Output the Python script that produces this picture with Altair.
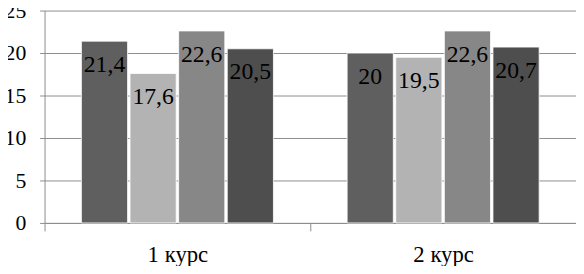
import altair as alt
import pandas as pd

courses = ["1 курс", "2 курс"]
series = ["s1", "s2", "s3", "s4"]
values_1 = [21.4, 17.6, 22.6, 20.5]
values_2 = [20.0, 19.5, 22.6, 20.7]
labels_1 = ["21,4", "17,6", "22,6", "20,5"]
labels_2 = ["20", "19,5", "22,6", "20,7"]
colors = ["#5f5f5f", "#b3b3b3", "#878787", "#4e4e4e"]
y_ticks = [0, 5, 10, 15, 20, 25]

rows = []
for c, vals, labs in [(courses[0], values_1, labels_1), (courses[1], values_2, labels_2)]:
    for s, v, l in zip(series, vals, labs):
        rows.append({"course": c, "series": s, "value": v, "label": l})
df = pd.DataFrame(rows)

AX = "#8c8c8c"
FONT = "Liberation Serif"

base = alt.Chart(df).encode(
    x=alt.X("course:N", sort=courses,
            scale=alt.Scale(paddingInner=0, paddingOuter=0),
            axis=alt.Axis(title=None, labelAngle=0, tickSize=8, tickColor=AX, tickBand="extent",
                          domainColor=AX, grid=False,
                          labelFont=FONT, labelFontSize=23, labelColor="black",
                          labelBaseline="alphabetic", labelPadding=31)),
    xOffset=alt.XOffset("series:N", sort=series,
                        scale=alt.Scale(paddingInner=0.05, paddingOuter=0.758)),
    y=alt.Y("value:Q", scale=alt.Scale(domain=[0, 25], nice=False),
            axis=alt.Axis(values=y_ticks, title=None, grid=True, gridColor=AX,
                          tickSize=5, tickColor=AX, domainColor=AX,
                          labelFont=FONT, labelFontSize=22, labelColor="black",
                          labelPadding=14)),
)

bars = base.mark_bar(stroke="white", strokeWidth=0.8).encode(
    color=alt.Color("series:N", scale=alt.Scale(domain=series, range=colors), legend=None)
)
text = base.mark_text(baseline="middle", dy=24, font=FONT, fontSize=24, color="black").encode(
    text="label:N"
)

chart = alt.layer(bars, text).properties(
    width=538, height=215,
    autosize=alt.AutoSizeParams(type="none"),
    padding={"left": 37, "top": 1, "right": 0, "bottom": 42},
).configure_view(stroke=None)

chart.save("out.html", embed_options={"renderer": "svg", "actions": False})
